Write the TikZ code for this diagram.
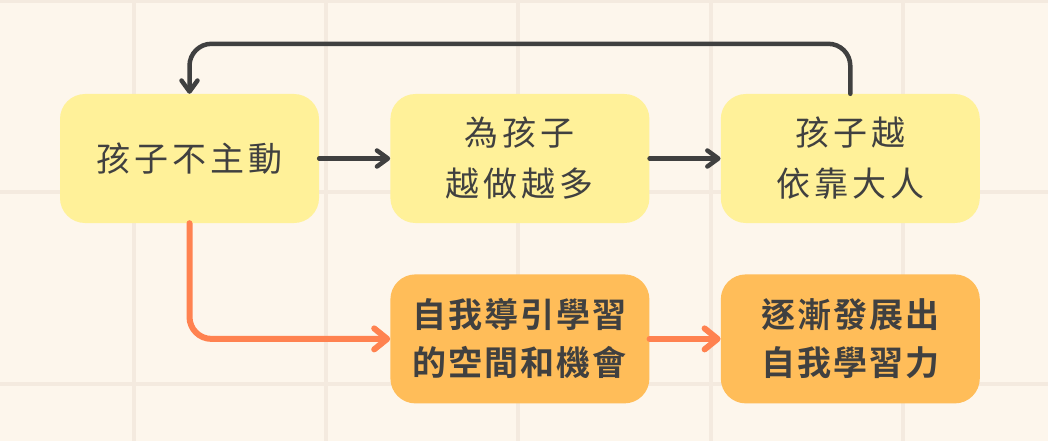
\documentclass[tikz,border=0pt]{standalone}
\usepackage{fontspec}
\usetikzlibrary{positioning,arrows.meta}
\newfontfamily\cjk{Noto Sans CJK TC}[LetterSpace=12]
\newfontfamily\cjkbold{Noto Sans CJK TC Bold}[LetterSpace=6]
\definecolor{paper}{HTML}{FDF6EC}
\definecolor{gridline}{HTML}{F4EADF}
\definecolor{lemon}{HTML}{FFF199}
\definecolor{apricot}{HTML}{FFBD59}
\definecolor{ink}{HTML}{404040}
\definecolor{coral}{HTML}{FF8250}
\begin{document}
\begin{tikzpicture}[x=1pt,y=-1pt,
  box/.style={rounded corners=25pt, minimum width=259pt, minimum height=129pt,
    align=center, text=ink, inner sep=0pt},
  soft/.style={box, fill=lemon, font=\cjk\fontsize{34}{51}\selectfont},
  strong/.style={box, fill=apricot, font=\cjkbold\fontsize{34}{48}\selectfont},
  darr/.style={draw=ink, line width=4.5pt, line cap=round, rounded corners=22pt,
    -{Straight Barb[length=11pt,width=16pt,round]}},
  oarr/.style={draw=coral, line width=6pt, line cap=round, rounded corners=22pt,
    -{Straight Barb[length=13pt,width=21pt,round]}},
  node distance=71pt and 51pt]

% background and grid
\useasboundingbox (0,0) rectangle (1048,441);
\fill[paper] (0,0) rectangle (1048,441);
\foreach \gx in {134,326,518,711,903}
  \draw[gridline, line width=4pt] (\gx,0) -- (\gx,441);
\foreach \gy in {1,192,384}
  \draw[gridline, line width=4pt] (0,\gy) -- (1048,\gy);

% upper row
\node[soft] (passive) at (189.5,158.5) {孩子不主動};
\node[soft, right=71pt of passive] (domore) {為孩子\\越做越多};
\node[soft, right=71pt of domore] (rely) {孩子越\\依靠大人};

% lower row
\node[strong, below=51pt of domore] (space) {自我導引學習\\的空間和機會};
\node[strong, below=51pt of rely] (grow) {逐漸發展出\\自我學習力};

% connectors
\draw[darr] (passive) -- (domore);
\draw[darr] (domore) -- (rely);
\draw[darr] (rely.north) -- ++(0,-50) -| (passive.north);
\draw[oarr] (passive.south) |- (space.west);
\draw[oarr] (space) -- (grow);
\end{tikzpicture}
\end{document}
